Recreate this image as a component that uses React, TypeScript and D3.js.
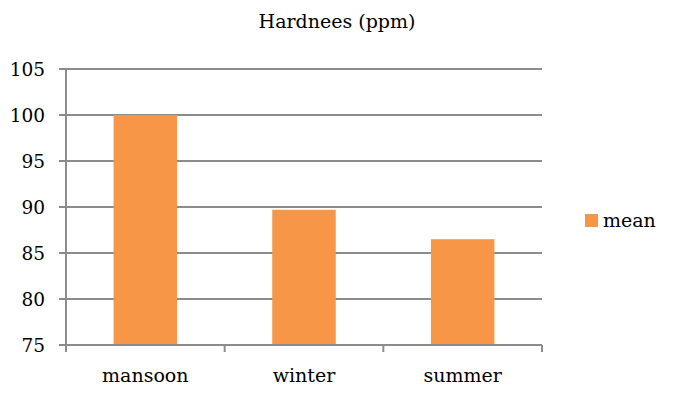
import React from "react";
import * as d3 from "d3";

const categories = ["mansoon", "winter", "summer"];
const meanValues = [100, 89.7, 86.5];
const yTicks = [75, 80, 85, 90, 95, 100, 105];
const seriesName = "mean";
const title = "Hardnees (ppm)";

export default function App() {
  const W = 683, H = 411;
  const left = 66, right = 542, top = 69, bottom = 345;
  const y = d3.scaleLinear().domain([75, 105]).range([bottom, top]);
  const x = d3.scaleBand().domain(categories).range([left, right]).paddingInner(0).paddingOuter(0);
  const bw = x.bandwidth() * 0.4;
  const font = "DejaVu Serif, serif";
  const grid = "#8c8c8c";
  const bounds = [left, ...categories.map((c) => (x(c) as number) + x.bandwidth())];
  return (
    <svg width={W} height={H} style={{ position: "absolute", left: 0, top: 0, fontFamily: font }}>
      <rect width={W} height={H} fill="#fff" />
      <text x={337} y={28} textAnchor="middle" fontSize={19} fill="#000">{title}</text>
      {yTicks.map((t) => (
        <g key={t}>
          <line x1={left - 7} x2={right} y1={y(t)} y2={y(t)} stroke={grid} strokeWidth={2} />
          <text x={45} y={y(t) + 6.5} textAnchor="end" fontSize={18.5} fill="#000">{t}</text>
        </g>
      ))}
      {categories.map((c, i) => (
        <rect key={c} x={(x(c) as number) + (x.bandwidth() - bw) / 2} y={y(meanValues[i])}
          width={bw} height={bottom - y(meanValues[i])} fill="#F79646" />
      ))}
      <line x1={left} x2={left} y1={top} y2={bottom + 7} stroke={grid} strokeWidth={2} />
      <line x1={left} x2={right} y1={bottom} y2={bottom} stroke={grid} strokeWidth={2} />
      {bounds.map((b, i) => (
        <line key={i} x1={b} x2={b} y1={bottom} y2={bottom + 7} stroke={grid} strokeWidth={2} />
      ))}
      {categories.map((c) => (
        <text key={c} x={(x(c) as number) + x.bandwidth() / 2} y={382} textAnchor="middle" fontSize={19} fill="#000">{c}</text>
      ))}
      <rect x={585} y={214} width={13} height={13} fill="#F79646" />
      <text x={603} y={227} fontSize={19} fill="#000">{seriesName}</text>
    </svg>
  );
}
